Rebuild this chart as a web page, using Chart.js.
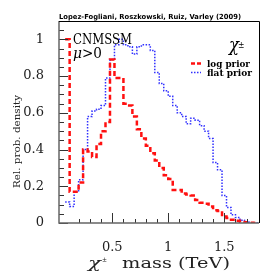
<!DOCTYPE html>
<html>
<head>
<meta charset="utf-8">
<script src="https://cdn.jsdelivr.net/npm/chart.js@4"></script>
<style>
  html, body { margin: 0; padding: 0; background: #fff; }
</style>
</head>
<body>
<canvas id="massChart" width="274" height="274"></canvas>
<script>
// left edges of the mass bins (TeV)
const binEdges = [0.08, 0.12, 0.16, 0.20, 0.24, 0.28, 0.32, 0.36, 0.40, 0.44,
  0.48, 0.52, 0.56, 0.60, 0.64, 0.68, 0.72, 0.76, 0.80, 0.84,
  0.88, 0.92, 0.96, 1.00, 1.04, 1.08, 1.12, 1.16, 1.20, 1.24,
  1.28, 1.32, 1.36, 1.40, 1.44, 1.48, 1.52, 1.56, 1.60, 1.64,
  1.68, 1.72, 1.76];
const binWidth = 0.04;

const logPrior = [1.0, 0.17, 0.17, 0.22, 0.40, 0.39, 0.36, 0.43, 0.50, 0.55,
  0.89, 0.79, 0.79, 0.65, 0.64, 0.58, 0.51, 0.46, 0.42, 0.38,
  0.34, 0.30, 0.26, 0.24, 0.18, 0.18, 0.16, 0.155, 0.15, 0.125,
  0.11, 0.105, 0.09, 0.07, 0.065, 0.035, 0.027, 0.018, 0.012, 0.006,
  0.004, 0.002, 0];

const flatPrior = [0.115, 0.09, 0.17, 0.235, 0.40, 0.58, 0.61, 0.62, 0.64, 0.79,
  0.89, 0.97, 1.0, 0.97, 0.96, 0.92, 0.96, 0.97, 0.97, 0.94,
  0.82, 0.76, 0.72, 0.69, 0.64, 0.60, 0.58, 0.54, 0.57, 0.56,
  0.53, 0.50, 0.46, 0.33, 0.29, 0.15, 0.085, 0.045, 0.03, 0.015,
  0.005, 0.002, 0];

const xTickLabels = [0.5, 1, 1.5];
const yTickLabels = [0, 0.2, 0.4, 0.6, 0.8, 1];

const toSteps = (vals) => {
  const pts = binEdges.map((x, i) => ({ x: x, y: vals[i] }));
  pts.push({ x: binEdges[binEdges.length - 1] + binWidth, y: vals[vals.length - 1] });
  return pts;
};

const isMult = (v, step) => Math.abs(v / step - Math.round(v / step)) < 1e-6;

function fitText(ctx, text, x, y, width, font) {
  ctx.font = font;
  const w = ctx.measureText(text).width;
  ctx.save();
  ctx.translate(x, y);
  ctx.scale(width / w, 1);
  ctx.fillText(text, 0, 0);
  ctx.restore();
}

const frameAndText = {
  id: "frameAndText",
  afterDatasetsDraw(chart) {
    const { ctx, chartArea: a } = chart;
    const xs = chart.scales.x;
    const ys = chart.scales.y;
    ctx.save();

    // inward tick marks
    ctx.strokeStyle = "#333";
    ctx.lineWidth = 1;
    ctx.beginPath();
    xs.ticks.forEach((t) => {
      if (!isMult(t.value, 0.1)) return;
      const px = Math.round(xs.getPixelForValue(t.value)) + 0.5;
      const len = isMult(t.value, 0.5) ? 10 : 4;
      ctx.moveTo(px, a.bottom);
      ctx.lineTo(px, a.bottom - len);
    });
    ys.ticks.forEach((t) => {
      if (!isMult(t.value, 0.05)) return;
      const py = Math.round(ys.getPixelForValue(t.value)) + 0.5;
      const len = isMult(t.value, 0.2) ? 9 : 5;
      ctx.moveTo(a.left, py);
      ctx.lineTo(a.left + len, py);
    });
    ctx.stroke();

    // frame
    ctx.lineWidth = 1.5;
    ctx.strokeStyle = "#666";
    ctx.beginPath();
    ctx.moveTo(a.left, a.top);
    ctx.lineTo(a.left, a.bottom);
    ctx.lineTo(a.right, a.bottom);
    ctx.stroke();
    ctx.strokeStyle = "#000";
    ctx.lineWidth = 1;
    ctx.beginPath();
    ctx.moveTo(a.left, a.top + 0.5);
    ctx.lineTo(a.right + 0.5, a.top + 0.5);
    ctx.lineTo(a.right + 0.5, a.bottom);
    ctx.stroke();

    // texts
    ctx.fillStyle = "#000";
    ctx.textAlign = "left";
    ctx.textBaseline = "alphabetic";
    fitText(ctx, "Lopez-Fogliani, Roszkowski, Ruiz, Varley (2009)", 59, 18.5, 182, "bold 7px 'DejaVu Sans'");
    fitText(ctx, "CNMSSM", 73, 44, 59, "15px 'DejaVu Serif'");
    fitText(ctx, "\u03bc", 73, 58, 9, "italic 15px 'DejaVu Serif'");
    fitText(ctx, ">0", 82, 58, 20, "15px 'DejaVu Serif'");

    fitText(ctx, "\u03c7", 229, 51, 10, "italic 18px 'DejaVu Serif'");
    fitText(ctx, "\u00b1", 238, 48, 6.5, "10px 'DejaVu Serif'");

    // legend
    ctx.lineWidth = 2.5;
    ctx.strokeStyle = "#ff1010";
    ctx.setLineDash([4, 2]);
    ctx.beginPath();
    ctx.moveTo(191, 63.5);
    ctx.lineTo(201, 63.5);
    ctx.stroke();
    ctx.lineWidth = 1.5;
    ctx.strokeStyle = "#3030ff";
    ctx.setLineDash([1.5, 1.5]);
    ctx.beginPath();
    ctx.moveTo(191, 72.5);
    ctx.lineTo(201, 72.5);
    ctx.stroke();
    ctx.setLineDash([]);
    fitText(ctx, "log prior", 207, 66.5, 43, "bold 9px 'DejaVu Serif'");
    fitText(ctx, "flat prior", 207, 75.5, 45, "bold 9px 'DejaVu Serif'");

    // axis titles
    ctx.fillStyle = "#222";
    fitText(ctx, "\u03c7", 88, 268, 13, "italic 15px 'DejaVu Serif'");
    fitText(ctx, "\u00b1", 102, 262, 5, "8px 'DejaVu Serif'");
    fitText(ctx, "mass (TeV)", 122, 268, 108, "15px 'DejaVu Serif'");

    ctx.save();
    ctx.translate(19.5, 141.5);
    ctx.rotate(-Math.PI / 2);
    fitText(ctx, "Rel. prob. density", -46.5, 0, 93, "10px 'DejaVu Serif'");
    ctx.restore();

    ctx.restore();
  },
};

const chart = new Chart(document.getElementById("massChart"), {
  type: "line",
  data: {
    datasets: [
      {
        label: "log prior",
        data: toSteps(logPrior),
        borderColor: "#ff1010",
        borderWidth: 2.5,
        borderDash: [5, 3],
        stepped: "before",
        pointRadius: 0,
        fill: false,
      },
      {
        label: "flat prior",
        data: toSteps(flatPrior),
        borderColor: "#3030ff",
        borderWidth: 1.5,
        borderDash: [1.5, 1.5],
        stepped: "before",
        pointRadius: 0,
        fill: false,
      },
    ],
  },
  options: {
    responsive: false,
    animation: false,
    devicePixelRatio: 1,
    layout: { padding: { top: 21, right: 15, left: 0, bottom: 0 } },
    plugins: {
      legend: { display: false },
      tooltip: { enabled: false },
    },
    scales: {
      x: {
        type: "linear",
        min: 0.025,
        max: 1.81,
        grid: { display: false },
        border: { display: false },
        ticks: {
          stepSize: 0.1,
          autoSkip: false,
          maxRotation: 0,
          padding: 9,
          color: "#222",
          font: { family: "DejaVu Serif", size: 13 },
          callback: (v) => {
            const l = xTickLabels.find((t) => Math.abs(t - v) < 1e-6);
            return l === undefined ? "" : String(l);
          },
        },
        afterFit: (s) => { s.height = 51; },
      },
      y: {
        min: 0,
        max: 1.1,
        grid: { display: false },
        border: { display: false },
        ticks: {
          stepSize: 0.05,
          autoSkip: false,
          padding: 7,
          color: "#222",
          font: { family: "DejaVu Serif", size: 13 },
          callback: (v) => {
            const l = yTickLabels.find((t) => Math.abs(t - v) < 1e-6);
            return l === undefined ? "" : String(l);
          },
        },
        afterFit: (s) => { s.width = 59; },
      },
    },
  },
  plugins: [frameAndText],
});
</script>
</body>
</html>
